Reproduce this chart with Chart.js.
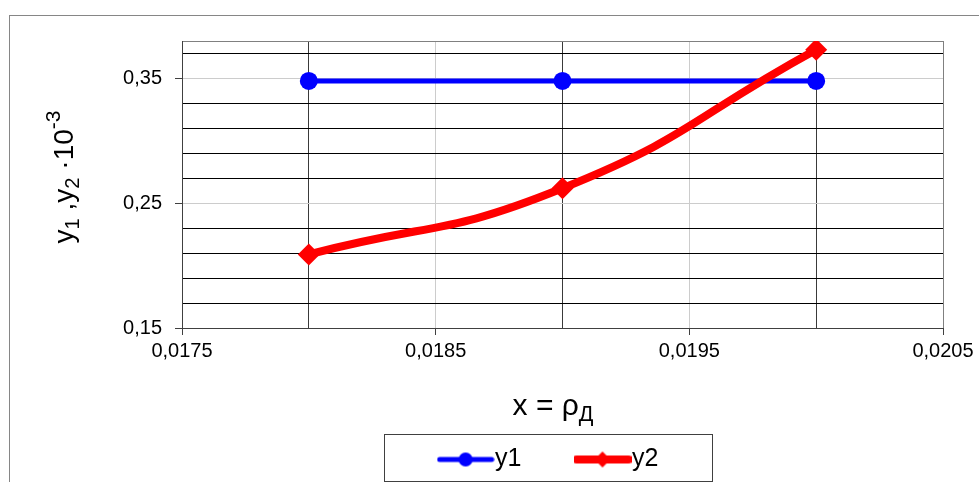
<!DOCTYPE html>
<html>
<head>
<meta charset="utf-8">
<script src="https://cdn.jsdelivr.net/npm/chart.js@4.4.1/dist/chart.umd.min.js"></script>
<style>
    html, body { margin: 0; padding: 0; background: #fff; overflow: hidden; }
    #wrap { position: relative; width: 979px; height: 482px; }
    #frame { position: absolute; left: 9px; top: 15px; width: 1000px; height: 500px; border: 1px solid #868686; box-sizing: border-box; }
    #chart { position: absolute; left: 0; top: 0; }
    .axisTitle { position: absolute; font-family: "Liberation Sans", Arial, sans-serif; color: #000; white-space: nowrap; line-height: 1; }
    .axisTitle sub { font-size: 72%; vertical-align: baseline; position: relative; top: 0.3em; }
    .axisTitle sup { font-size: 75%; vertical-align: baseline; position: relative; top: -0.62em; }
    #yTitle { font-size: 28px; width: 300px; height: 28px; text-align: center; left: -86px; top: 163px; transform: rotate(-90deg); }
    #xTitle { font-size: 30px; width: 200px; text-align: center; left: 453px; top: 390px; }
</style>
</head>
<body>
<div id="wrap">
    <div id="frame"></div>
    <canvas id="chart" width="979" height="482"></canvas>
    <div class="axisTitle" id="yTitle">y<sub>1</sub> ,y<sub>2</sub> ·10<sup>-3</sup></div>
    <div class="axisTitle" id="xTitle">x = ρ<sub>Д</sub></div>
</div>
<script>
// data
const xValues = [0.018, 0.019, 0.020];
const y1Values = [0.348, 0.348, 0.348];
const y2Values = [0.209, 0.262, 0.373];
const seriesNames = ['y1', 'y2'];

// axis ranges
const xMin = 0.0175, xMax = 0.0205, xStep = 0.0005;
const yMin = 0.15, yMax = 0.38, yStep = 0.01;

const FONT = '"Liberation Sans", Arial, sans-serif';
Chart.defaults.font.family = FONT;
Chart.defaults.color = '#000';

const comma = (v, digits) => v.toFixed(digits).replace('.', ',');

// grid colours: light grey for major, black for minor, dark grey for plot border
function xGridColor(ctx) {
    if (!ctx.tick) return 'rgba(0,0,0,0)';
    const v = ctx.tick.value;
    const k = Math.round((v - xMin) / xStep);
    if (Math.abs(v - xMax) < 1e-9) return '#808080';
    return k % 2 === 0 ? '#cccccc' : '#3a3a3a';
}

function yGridColor(ctx) {
    if (!ctx.tick) return 'rgba(0,0,0,0)';
    const v = ctx.tick.value;
    const k = Math.round((v - yMin) / yStep);
    if (Math.abs(v - yMax) < 1e-9) return '#808080';
    if (k % 10 === 0) return '#cccccc';
    if (k % 2 === 0) return '#000000';
    return 'rgba(0,0,0,0)';
}

function xTickColor(ctx) {
    if (!ctx.tick) return 'rgba(0,0,0,0)';
    const k = Math.round((ctx.tick.value - xMin) / xStep);
    return k % 2 === 0 ? '#404040' : 'rgba(0,0,0,0)';
}

function yTickColor(ctx) {
    if (!ctx.tick) return 'rgba(0,0,0,0)';
    const k = Math.round((ctx.tick.value - yMin) / yStep);
    return k % 10 === 0 ? '#404040' : 'rgba(0,0,0,0)';
}

// little line+marker picture for the legend
function legendSwatch(color, lineWidth, shape) {
    const c = document.createElement('canvas');
    c.width = 58;
    c.height = 22;
    const g = c.getContext('2d');
    g.strokeStyle = color;
    g.fillStyle = color;
    g.lineWidth = lineWidth;
    g.lineCap = 'round';
    g.beginPath();
    g.moveTo(3, 11);
    g.lineTo(55, 11);
    g.stroke();
    g.beginPath();
    if (shape === 'circle') {
        g.arc(29, 11, 7, 0, Math.PI * 2);
    } else {
        g.moveTo(29, 3);
        g.lineTo(37, 11);
        g.lineTo(29, 19);
        g.lineTo(21, 11);
        g.closePath();
    }
    g.fill();
    return c;
}

const swatches = [
    legendSwatch('#0000ff', 5, 'circle'),
    legendSwatch('#ff0000', 8, 'diamond')
];

// the legend sits a little left of the plot centre
const legendShift = {
    id: 'legendShift',
    afterLayout(chart) {
        if (!chart.legend) return;
        chart.legend.left -= 9;
        chart.legend.right -= 9;
    }
};

// frame round the legend
const legendFrame = {
    id: 'legendFrame',
    afterDraw(chart) {
        const boxes = chart.legend && chart.legend.legendHitBoxes;
        if (!boxes || !boxes.length) return;
        const first = boxes[0];
        const last = boxes[boxes.length - 1];
        const left = first.left - 65;
        const right = last.left + last.width + 53;
        const top = first.top - 13;
        const bottom = chart.height - 1;
        const ctx = chart.ctx;
        ctx.save();
        ctx.strokeStyle = '#404040';
        ctx.lineWidth = 1;
        ctx.strokeRect(Math.round(left) + 0.5, Math.round(top) + 0.5, Math.round(right - left), Math.round(bottom - top));
        ctx.restore();
    }
};

new Chart(document.getElementById('chart'), {
    type: 'line',
    data: {
        datasets: [
            {
                label: seriesNames[0],
                data: xValues.map((x, i) => ({ x: x, y: y1Values[i] })),
                borderColor: '#0000ff',
                backgroundColor: '#0000ff',
                borderWidth: 5,
                pointStyle: 'circle',
                pointRadius: 9,
                pointBorderWidth: 0,
                tension: 0,
                order: 1
            },
            {
                label: seriesNames[1],
                data: xValues.map((x, i) => ({ x: x, y: y2Values[i] })),
                borderColor: '#ff0000',
                backgroundColor: '#ff0000',
                borderWidth: 8,
                pointStyle: 'rectRot',
                pointRadius: 11,
                pointBorderWidth: 0,
                tension: 0.5,
                order: 0
            }
        ]
    },
    options: {
        responsive: false,
        animation: false,
        events: [],
        layout: {
            padding: { left: 0, right: 36, top: 41, bottom: 0 }
        },
        scales: {
            x: {
                type: 'linear',
                min: xMin,
                max: xMax,
                afterFit: (s) => { s.height = 55; },
                ticks: {
                    stepSize: xStep,
                    maxTicksLimit: 100,
                    autoSkip: false,
                    maxRotation: 0,
                    padding: 4,
                    font: { size: 20 },
                    color: '#000',
                    callback: (v) => {
                        const k = Math.round((v - xMin) / xStep);
                        return k % 2 === 0 ? comma(v, 4) : '';
                    }
                },
                grid: {
                    color: xGridColor,
                    tickColor: xTickColor,
                    tickLength: 7,
                    lineWidth: 1
                },
                border: { color: '#404040', width: 1 }
            },
            y: {
                type: 'linear',
                min: yMin,
                max: yMax,
                afterFit: (s) => { s.width = 182; },
                ticks: {
                    stepSize: yStep,
                    maxTicksLimit: 100,
                    autoSkip: false,
                    padding: 13,
                    font: { size: 20 },
                    color: '#000',
                    callback: (v) => {
                        const k = Math.round((v - yMin) / yStep);
                        return k % 10 === 0 ? comma(v, 2) : '';
                    }
                },
                grid: {
                    color: yGridColor,
                    tickColor: yTickColor,
                    tickLength: 7,
                    lineWidth: 1
                },
                border: { color: '#404040', width: 1 }
            }
        },
        plugins: {
            tooltip: { enabled: false },
            legend: {
                position: 'bottom',
                fullSize: false,
                labels: {
                    usePointStyle: true,
                    pointStyleWidth: 34,
                    boxHeight: 20,
                    padding: 64,
                    font: { size: 25 },
                    color: '#000',
                    generateLabels: (chart) => chart.data.datasets.map((ds, i) => ({
                        text: ds.label,
                        pointStyle: swatches[i],
                        fillStyle: ds.borderColor,
                        strokeStyle: ds.borderColor,
                        lineWidth: 0,
                        hidden: false,
                        datasetIndex: i,
                        fontColor: '#000'
                    }))
                }
            }
        }
    },
    plugins: [legendShift, legendFrame]
});
</script>
</body>
</html>
